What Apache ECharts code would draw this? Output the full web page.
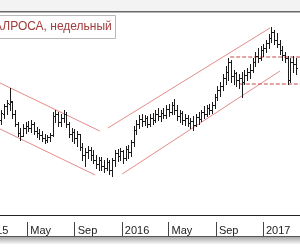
<!DOCTYPE html>
<html><head><meta charset="utf-8">
<script src="https://cdn.jsdelivr.net/npm/echarts@6/dist/echarts.min.js"></script>
<style>html,body{margin:0;padding:0;background:#fff;overflow:hidden;width:300px;height:250px;position:relative}#c{position:absolute;left:-19px;top:0;width:319px;height:250px}</style>
</head><body><div id="c"></div><script>
const title = 'АЛРОСА, недельный';
const firstWeek = '2015-02-23';
const openP = [83.0,85.4,88.6,89.4,90.2,85.4,81.4,77.8,76.6,79.8,
 80.6,79.8,81.4,78.6,77.8,77.0,75.8,75.0,76.2,77.0,
 84.6,85.4,82.2,83.8,85.4,81.4,77.4,78.2,75.8,77.4,
 72.2,69.0,70.2,71.0,69.0,67.0,65.4,67.0,64.6,63.8,
 66.2,63.0,67.0,69.8,68.6,70.6,67.8,71.4,70.2,74.2,
 79.0,81.4,83.4,82.6,83.8,81.4,83.8,83.0,85.4,84.6,
 85.8,85.0,87.4,86.2,89.0,87.0,84.6,85.8,83.0,83.8,
 81.8,82.6,81.0,84.2,83.4,86.2,85.4,87.8,87.0,89.0,
 92.2,95.0,96.6,99.8,102.2,106.2,100.6,101.8,99.0,99.8,
 98.2,101.0,102.2,103.0,106.2,108.6,107.8,111.0,111.8,113.8,
 115.8,118.2,115.0,113.4,111.0,109.0,107.8,99.0,106.2,105.4];
const highP = [87.0,89.4,91.0,95.8,90.6,87.0,82.2,79.8,81.4,82.2,
 82.6,83.0,82.2,80.2,79.4,78.6,77.4,77.0,77.8,86.2,
 87.0,86.2,85.4,87.0,86.2,82.2,79.8,79.4,78.6,77.4,
 73.8,71.8,72.6,72.2,71.0,69.0,68.2,68.2,67.0,67.8,
 67.0,67.8,71.0,71.4,71.8,71.0,72.6,73.0,75.0,80.6,
 83.0,85.0,85.4,85.0,84.6,85.4,85.8,87.0,87.8,87.0,
 87.8,89.0,89.4,90.2,91.4,89.0,87.0,86.6,85.4,85.0,
 83.8,84.6,85.4,86.2,87.0,88.6,89.0,89.4,90.2,93.4,
 96.6,98.2,101.4,104.6,107.8,107.0,103.0,102.2,101.4,102.2,
 103.0,103.8,105.4,107.8,110.2,111.8,112.6,113.4,115.0,117.4,
 120.2,119.0,117.8,115.0,112.6,110.2,108.6,107.8,108.6,107.8];
const lowP = [81.4,83.8,85.4,87.0,83.8,80.6,76.6,75.0,76.6,77.8,
 78.6,78.2,77.4,76.2,75.4,74.6,73.8,74.2,74.6,76.6,
 82.2,80.6,80.6,82.2,80.2,76.2,74.6,73.8,72.6,71.0,
 67.0,64.6,67.8,67.0,65.8,63.8,63.0,63.0,62.2,63.0,
 61.4,60.6,64.6,66.6,67.0,65.8,67.0,67.8,68.6,72.6,
 77.4,79.8,80.6,81.0,80.2,80.6,81.4,82.2,83.0,82.6,
 83.8,83.8,84.6,85.4,85.4,83.0,82.2,81.4,81.0,80.6,
 79.8,79.0,80.6,81.4,82.6,83.8,84.6,85.4,85.8,87.8,
 91.0,92.6,95.0,97.4,99.0,98.2,97.4,96.6,95.8,92.2,
 97.4,99.0,99.8,102.2,104.6,106.2,107.0,108.6,110.2,111.8,
 114.2,113.4,112.2,109.4,107.0,106.2,97.4,98.2,102.2,101.4];
const closeP = [85.8,88.6,89.8,90.6,85.4,81.4,77.8,76.6,79.8,80.6,
 79.8,81.4,78.6,77.8,77.0,75.8,75.0,76.2,77.0,84.6,
 85.4,82.2,83.8,85.4,81.4,77.4,78.2,75.8,77.4,72.2,
 69.0,70.2,71.0,69.0,67.0,65.4,67.0,64.6,63.8,66.2,
 63.0,67.0,69.8,68.6,70.6,67.8,71.4,70.2,74.2,79.0,
 81.4,83.4,82.6,83.8,81.4,83.8,83.0,85.4,84.6,85.8,
 85.0,87.4,86.2,89.0,87.0,84.6,85.8,83.0,83.8,81.8,
 82.6,81.0,84.2,83.4,86.2,85.4,87.8,87.0,89.0,92.2,
 95.0,96.6,99.8,102.2,106.2,100.6,101.8,99.0,99.8,98.2,
 101.0,102.2,103.0,106.2,108.6,107.8,111.0,111.8,113.8,115.8,
 118.2,115.0,113.4,111.0,109.0,107.8,99.0,106.2,105.4,103.8];
const tickDates = ['2015-01-01','2015-05-01','2015-09-01','2016-01-01','2016-05-01','2016-09-01','2017-01-01'];
const tickLabels = ['2015','May','Sep','2016','May','Sep','2017'];
const axisStart = '2015-01-01', axisEnd = '2017-04-07';
const leftUpper = [['2015-02-10', 98.5], ['2015-11-05', 78.6]];
const leftLower = [['2015-02-10', 80.1], ['2015-10-24', 61.0]];
const rightUpper = [['2015-11-26', 79.8], ['2017-01-19', 119.8]];
const rightLower = [['2016-01-02', 61.4], ['2017-02-14', 102.6]];
const resistance = [['2016-10-08', 108.2], ['2017-04-07', 108.2]];
const support = [['2016-11-02', 97.4], ['2017-04-07', 97.4]];

function dayNum(s){const a=s.split('-').map(Number);return (Date.UTC(a[0],a[1]-1,a[2])-Date.UTC(2015,0,1))/864e5;}
const d0 = dayNum(firstWeek);
const ohlc = openP.map((o,i)=>[d0+7*i, o, highP[i], lowP[i], closeP[i]]);
const tickDays = tickDates.map(dayNum);
const minD = dayNum(axisStart), maxD = dayNum(axisEnd);
const toXY = arr => arr.map(p=>[dayNum(p[0]), p[1]]);
const SH = 19; // the chart canvas starts 19px left of the visible window

const chart = echarts.init(document.getElementById('c'), null, {renderer:'canvas'});
const lineS = (data, color, type) => ({type:'line', data:toXY(data), symbol:'none', silent:true, z:2,
  lineStyle:{color:color, width:1, type:type||'solid'}, xAxisIndex:0, yAxisIndex:0});
chart.setOption({
  animation:false,
  grid:{left:0, right:0, top:15, bottom:35},
  xAxis:[
    {type:'value', min:minD, max:maxD, axisLine:{show:true, lineStyle:{color:'#222', width:1}},
     axisTick:{show:false}, axisLabel:{show:false}, splitLine:{show:false}},
    {type:'value', min:minD, max:maxD, position:'bottom', offset:7, axisLine:{show:false},
     axisTick:{show:true, customValues:tickDays, length:14, lineStyle:{color:'#444'}},
     axisLabel:{show:true, customValues:tickDays, align:'left', margin:3, fontSize:11,
       fontFamily:'Liberation Sans', color:'#222', padding:[0,0,0,3],
       formatter:v=>{const k=tickDays.indexOf(v);return k>=0?tickLabels[k]:'';}},
     splitLine:{show:false}}
  ],
  yAxis:{type:'value', min:45, max:125, show:false},
  series:[
    lineS(leftUpper,'#e38b8b'), lineS(leftLower,'#e38b8b'),
    lineS(rightUpper,'#e38b8b'), lineS(rightLower,'#e38b8b'),
    lineS(resistance,'#c44848','dashed'), lineS(support,'#c44848','dashed'),
    {type:'custom', xAxisIndex:0, yAxisIndex:0, z:3, encode:{x:0, y:[1,2,3,4]}, data:ohlc,
     renderItem:(params, api)=>{
       const d=api.value(0);
       const o=api.coord([d,api.value(1)]), h=api.coord([d,api.value(2)]),
             l=api.coord([d,api.value(3)]), c=api.coord([d,api.value(4)]);
       const b=Math.round(o[0]), x=b+0.5, st={stroke:'#1a1a1a', lineWidth:1};
       const oy=Math.round(o[1])+0.5, cy=Math.round(c[1])+0.5;
       return {type:'group', children:[
         {type:'line', shape:{x1:x,y1:Math.round(h[1]),x2:x,y2:Math.round(l[1])+1}, style:st},
         {type:'line', shape:{x1:b-1,y1:oy,x2:b,y2:oy}, style:st},
         {type:'line', shape:{x1:b+1,y1:cy,x2:b+2,y2:cy}, style:st}
       ]};
     }}
  ],
  graphic:[
    {type:'rect', shape:{x:0,y:0,width:319,height:11}, style:{fill:'#f3f3f3'}, z:10},
    {type:'line', shape:{x1:0,y1:11.75,x2:319,y2:11.75}, style:{stroke:'#6a6a6a', lineWidth:1.5}, z:10},
    {type:'rect', shape:{x:SH-1.5,y:15.5,width:117,height:23}, style:{fill:'#fff', stroke:'#b8b8b8', lineWidth:1}, z:10},
    {type:'text', x:SH-6, y:27, style:{text:title, fill:'#a23b3b', font:'12px "Liberation Sans"', verticalAlign:'middle'}, z:11},
    {type:'line', shape:{x1:0,y1:236.5,x2:319,y2:236.5}, style:{stroke:'#555', lineWidth:1}, z:10},
    {type:'rect', shape:{x:0,y:237,width:319,height:7},
     style:{fill:new echarts.graphic.LinearGradient(0,0,0,1,[{offset:0,color:'#a8a8a8'},{offset:1,color:'#f6f6f6'}])}, z:10}
  ]
});
</script></body></html>
